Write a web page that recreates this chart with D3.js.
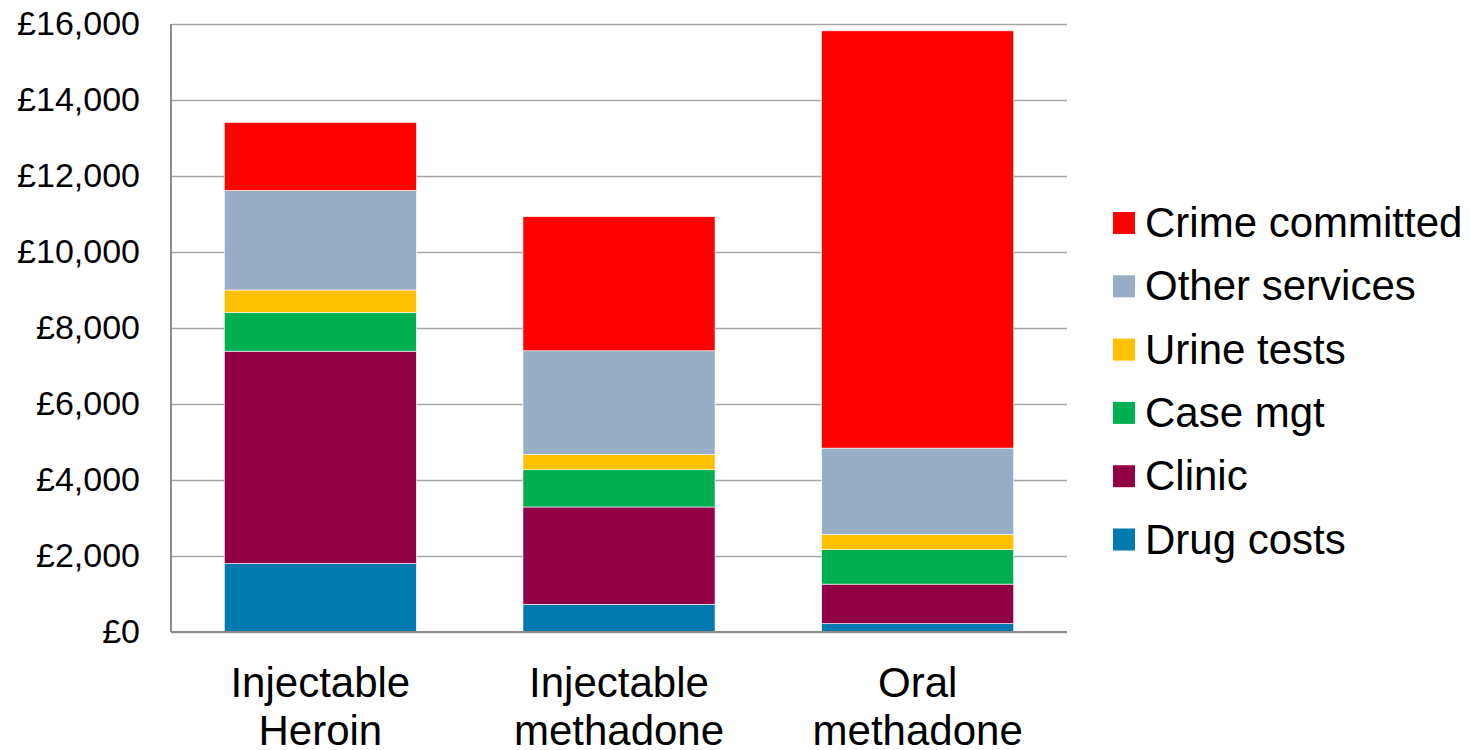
<!DOCTYPE html>
<html>
<head>
<meta charset="utf-8">
<script src="https://cdn.jsdelivr.net/npm/d3@7"></script>
<style>
  body { margin: 0; background: #fff; }
  text { font-family: "Liberation Sans", Arial, sans-serif; fill: #000; }
</style>
</head>
<body>
<svg id="chart" width="1470" height="750"></svg>
<script>
// treatment groups (x axis), two-line labels
const treatments = ["Injectable Heroin", "Injectable methadone", "Oral methadone"];
const treatmentLines = [["Injectable", "Heroin"], ["Injectable", "methadone"], ["Oral", "methadone"]];

// cost components, bottom to top
const components = ["Drug costs", "Clinic", "Case mgt", "Urine tests", "Other services", "Crime committed"];
const colors = ["#0079ae", "#910044", "#00b050", "#ffc000", "#98aec6", "#ff0000"];

// per-component values (£), one per treatment
const drugCosts      = [1800,  730,   220];
const clinic         = [5590,  2560,  1040];
const caseMgt        = [1020,  980,   910];
const urineTests     = [590,   400,   400];
const otherServices  = [2620,  2730,  2270];
const crimeCommitted = [1790,  3530,  10980];

const yTicks = [0, 2000, 4000, 6000, 8000, 10000, 12000, 14000, 16000];

const margin = { top: 24, right: 403, bottom: 118, left: 171 };
const svg = d3.select("svg#chart"),
  width = +svg.attr("width") - margin.left - margin.right,
  height = +svg.attr("height") - margin.top - margin.bottom,
  g = svg.append("g").attr("transform", `translate(${margin.left}, ${margin.top})`);

const seriesVals = [drugCosts, clinic, caseMgt, urineTests, otherServices, crimeCommitted];
const rows = treatments.map((t, i) => {
  const r = { treatment: t };
  components.forEach((c, j) => r[c] = seriesVals[j][i]);
  return r;
});

const x = d3.scaleBand().domain(treatments).range([0, width])
  .paddingInner(0.357).paddingOuter(0.1785);
const y = d3.scaleLinear().domain([0, 16000]).range([height, 0]);
const color = d3.scaleOrdinal().domain(components).range(colors);

// gridlines
g.append("g")
  .call(d3.axisLeft(y).tickValues(yTicks).tickSize(-width).tickFormat(""))
  .call(ax => ax.select(".domain").remove())
  .selectAll("line").attr("stroke", "#a6a6a6").attr("stroke-width", 1.6);

// y labels
g.append("g")
  .call(d3.axisLeft(y).tickValues(yTicks).tickSize(0).tickPadding(31)
    .tickFormat(d => "£" + d3.format(",")(d)))
  .call(ax => ax.select(".domain").remove())
  .selectAll("text").style("font-size", "34px");

const stack = d3.stack().keys(components)(rows);

g.selectAll(".layer")
  .data(stack)
  .enter().append("g")
  .attr("class", "layer")
  .attr("fill", d => color(d.key))
  .selectAll("rect")
  .data(d => d)
  .enter().append("rect")
  .attr("x", d => x(d.data.treatment))
  .attr("y", d => y(d[1]))
  .attr("width", x.bandwidth())
  .attr("height", d => y(d[0]) - y(d[1]))
  .attr("stroke", "#ffffff")
  .attr("stroke-width", 0.6);

// left axis line and baseline
g.append("line").attr("x1", 0).attr("x2", 0).attr("y1", 0).attr("y2", height)
  .attr("stroke", "#8c8c8c").attr("stroke-width", 2);
g.append("line").attr("x1", 0).attr("x2", width).attr("y1", height).attr("y2", height)
  .attr("stroke", "#8c8c8c").attr("stroke-width", 2);

// category labels
const cat = g.selectAll(".cat")
  .data(treatments)
  .enter().append("text")
  .attr("class", "cat")
  .attr("x", d => x(d) + x.bandwidth() / 2)
  .attr("y", height + 65)
  .attr("text-anchor", "middle")
  .style("font-size", "42px");
cat.selectAll("tspan")
  .data((d, i) => treatmentLines[i])
  .enter().append("tspan")
  .attr("x", function() { return d3.select(this.parentNode).attr("x"); })
  .attr("dy", (d, i) => i === 0 ? 0 : 48)
  .text(d => d);

// legend
const legend = svg.selectAll(".legend")
  .data(components.slice().reverse())
  .enter().append("g")
  .attr("class", "legend")
  .attr("transform", (d, i) => `translate(1113, ${223 + i * 63.3})`);

legend.append("rect")
  .attr("x", 0)
  .attr("y", -11)
  .attr("width", 22)
  .attr("height", 22)
  .attr("fill", d => color(d));

legend.append("text")
  .attr("x", 32)
  .attr("y", 14)
  .style("font-size", "42px")
  .text(d => d);
</script>
</body>
</html>
